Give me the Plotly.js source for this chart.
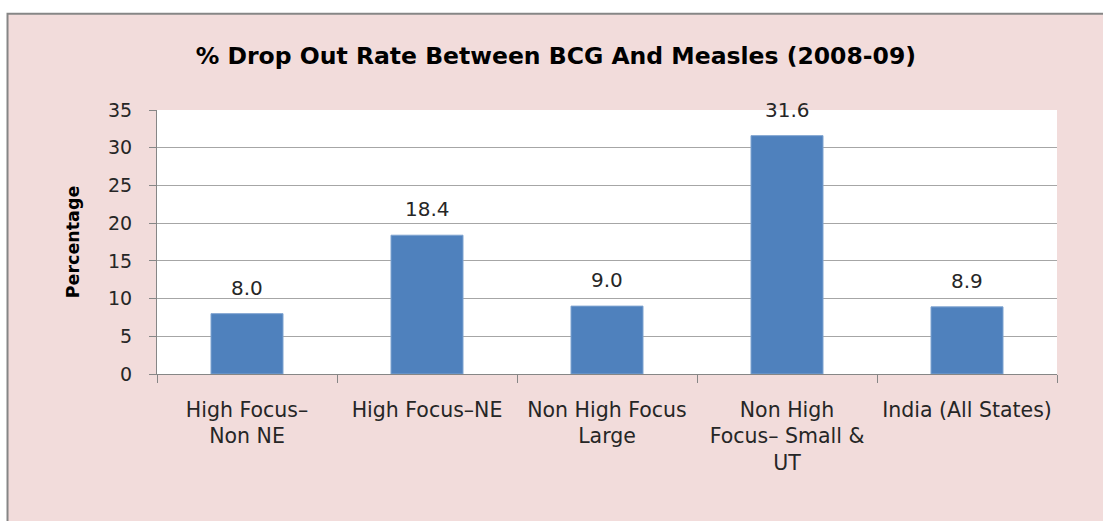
<!DOCTYPE html>
<html>
<head>
<meta charset="utf-8">
<script src="https://cdn.plot.ly/plotly-3.0.1.min.js"></script>
<style>html,body{margin:0;padding:0;background:#fff;}#chart{width:1103px;height:521px;}</style>
</head>
<body>
<div id="chart"></div>
<script>
const categories = ["High Focus–<br>Non NE", "High Focus–NE", "Non High Focus<br>Large", "Non High<br>Focus– Small &<br>UT", "India (All States)"];
const values = [8.0, 18.4, 9.0, 31.6, 8.9];
const valueLabels = ["8.0", "18.4", "9.0", "31.6", "8.9"];
const yTicks = [0, 5, 10, 15, 20, 25, 30, 35];

const FONT = "DejaVu Sans, Noto Sans, sans-serif";

const trace = {
  type: "bar",
  x: categories,
  y: values,
  width: 0.4,
  marker: {color: "#4f81bd", line: {color: "#7fa3d0", width: 1}},
  hoverinfo: "none"
};

const annotations = categories.map((c, i) => ({
  x: c, y: values[i], xref: "x", yref: "y",
  text: valueLabels[i], showarrow: false,
  yanchor: "bottom", yshift: 12,
  font: {family: FONT, size: 20, color: "#262626"}
}));

const layout = {
  width: 1103, height: 521,
  margin: {l: 157, r: 46, t: 110, b: 147, pad: 0},
  paper_bgcolor: "#ffffff",
  plot_bgcolor: "rgba(0,0,0,0)",
  showlegend: false,
  title: {
    text: "<b>% Drop Out Rate Between BCG And Measles (2008-09)</b>",
    font: {family: FONT, size: 23.5, color: "#000000"},
    x: 0.504, xanchor: "center", xref: "container",
    y: 0.892, yanchor: "middle", yref: "container"
  },
  xaxis: {
    type: "category",
    showline: true, linecolor: "#868686", linewidth: 1,
    ticks: "outside", tickson: "boundaries", ticklen: 8, tickcolor: "#868686",
    tickfont: {family: FONT, size: 20.5, color: "#262626"},
    tickangle: 0,
    ticklabelstandoff: 17,
    showgrid: false, zeroline: false,
    range: [-0.5, 4.5]
  },
  yaxis: {
    range: [0, 35], tickvals: yTicks, ticktext: yTicks.map(String),
    showline: true, linecolor: "#868686", linewidth: 1,
    ticks: "outside", ticklen: 7, tickcolor: "#868686",
    tickfont: {family: FONT, size: 19, color: "#262626"},
    ticklabelstandoff: 13,
    showgrid: true, gridcolor: "#a6a6a6", gridwidth: 1,
    zeroline: false,
    title: {text: "<b>Percentage</b>", font: {family: FONT, size: 17.5, color: "#000000"}, standoff: 23}
  },
  shapes: [
    {type: "rect", xref: "paper", yref: "paper", x0: -0.1661, x1: 1.06, y0: -0.62, y1: 1.365,
     fillcolor: "#f2dcdb", line: {color: "#868686", width: 2}, layer: "below"},
    {type: "rect", xref: "x domain", yref: "y domain", x0: 0, x1: 1, y0: 0, y1: 1,
     fillcolor: "#ffffff", line: {width: 0}, layer: "below"}
  ],
  annotations: annotations,
  bargap: 0.6
};

Plotly.newPlot("chart", [trace], layout, {displayModeBar: false, staticPlot: true});
</script>
</body>
</html>
